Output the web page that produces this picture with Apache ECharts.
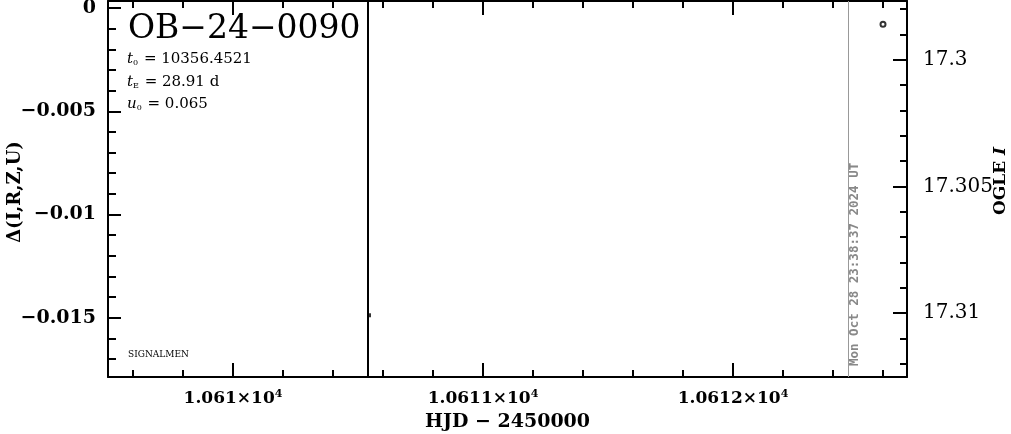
<!DOCTYPE html>
<html>
<head>
<meta charset="utf-8">
<script src="https://cdn.jsdelivr.net/npm/echarts@6/dist/echarts.min.js"></script>
<style>
html,body{margin:0;padding:0;background:#fff;}
#chart{width:1011px;height:434px;}
</style>
</head>
<body>
<div id="chart"></div>
<script>
// ---- data ----
const xRange = [10609.5, 10612.696];
const leftRange = [-0.01787, 0.00034];
const rightRange = [17.29768, 17.31252];
const xMajorTicks = [10610, 10611, 10612];
const xTickLabels = ['1.061', '1.0611', '1.0612'];
const xMinorStep = 0.2;
const leftMajorTicks = [0, -0.005, -0.01, -0.015];
const leftTickLabels = ['0', '\u22120.005', '\u22120.01', '\u22120.015'];
const leftMinorStep = 0.001;
const rightMajorTicks = [17.3, 17.305, 17.31];
const rightTickLabels = ['17.3', '17.305', '17.31'];
const rightMinorStep = 0.001;
const ogleHJD = [10612.6];
const ogleMag = [17.2986];
const deltaHJD = [10610.544];
const deltaVal = [-0.01488];
const t0Line = [10610.544];
const nowLine = [10612.46];

function minorTicks(range, step, majors) {
  const out = [];
  const start = Math.ceil(range[0] / step - 1e-9);
  const end = Math.floor(range[1] / step + 1e-9);
  for (let k = start; k <= end; k++) {
    const v = +(k * step).toFixed(6);
    if (!majors.some(m => Math.abs(m - v) < step / 10)) out.push(v);
  }
  return out;
}
const xMinor = minorTicks(xRange, xMinorStep, xMajorTicks);
const leftMinor = minorTicks(leftRange, leftMinorStep, leftMajorTicks);
const rightMinor = minorTicks(rightRange, rightMinorStep, rightMajorTicks);

const serif = '"DejaVu Serif", serif';
const black = '#000';

function baseX(pos, ticks, len, showLine) {
  return {
    type: 'value', position: pos, min: xRange[0], max: xRange[1],
    axisLine: {show: showLine, onZero: false, lineStyle: {color: black, width: 2}},
    axisTick: {show: true, inside: true, length: len, customValues: ticks, lineStyle: {color: black, width: 2}},
    axisLabel: {show: false}, splitLine: {show: false}
  };
}
function baseY(pos, range, inverse, ticks, len, showLine) {
  return {
    type: 'value', position: pos, min: range[0], max: range[1], inverse: inverse,
    axisLine: {show: showLine, onZero: false, lineStyle: {color: black, width: 2}},
    axisTick: {show: true, inside: true, length: len, customValues: ticks, lineStyle: {color: black, width: 2}},
    axisLabel: {show: false}, splitLine: {show: false}
  };
}

const xBottom = baseX('bottom', xMajorTicks, 14, true);
xBottom.axisLabel = {
  show: true, customValues: xMajorTicks, margin: 12,
  formatter: function (v) {
    const i = xMajorTicks.findIndex(m => Math.abs(m - v) < 1e-6);
    return '{a|' + xTickLabels[i] + '\u00d710}{s|4}';
  },
  rich: {
    a: {fontFamily: serif, fontWeight: 'bold', fontSize: 17, color: black},
    s: {fontFamily: serif, fontWeight: 'bold', fontSize: 11, color: black, verticalAlign: 'top', padding: [0, 0, 8, 0]}
  }
};
xBottom.name = 'HJD \u2212 2450000';
xBottom.nameLocation = 'middle';
xBottom.nameGap = 36;
xBottom.nameMoveOverlap = false;
xBottom.nameTextStyle = {fontFamily: serif, fontWeight: 'bold', fontSize: 19, color: black};

const yLeft = baseY('left', leftRange, false, leftMajorTicks, 13, true);
yLeft.axisLabel = {
  show: true, customValues: leftMajorTicks, margin: 12,
  fontFamily: serif, fontWeight: 'bold', fontSize: 19, color: black,
  formatter: function (v) {
    const i = leftMajorTicks.findIndex(m => Math.abs(m - v) < 1e-9);
    return leftTickLabels[i];
  }
};
yLeft.name = '\u0394(I,R,Z,U)';
yLeft.nameLocation = 'middle';
yLeft.nameGap = 84;
yLeft.nameRotate = 90;
yLeft.nameMoveOverlap = false;
yLeft.nameTextStyle = {fontFamily: serif, fontWeight: 'bold', fontSize: 18, color: black, padding: [0, 6, 0, 0]};

const yRight = baseY('right', rightRange, true, rightMajorTicks, 14, true);
yRight.axisLabel = {
  show: true, customValues: rightMajorTicks, margin: 16,
  fontFamily: serif, fontSize: 20, color: black,
  formatter: function (v) {
    const i = rightMajorTicks.findIndex(m => Math.abs(m - v) < 1e-9);
    return rightTickLabels[i];
  }
};
yRight.name = '{a|OGLE }{i|I}';
yRight.nameLocation = 'middle';
yRight.nameGap = 85;
yRight.nameRotate = 90;
yRight.nameMoveOverlap = false;
yRight.nameTextStyle = {
  padding: [0, 0, 0, 16],
  rich: {
    a: {fontFamily: serif, fontWeight: 'bold', fontSize: 17, color: black},
    i: {fontFamily: serif, fontStyle: 'italic', fontWeight: 'bold', fontSize: 17, color: black}
  }
};

const richParam = {
  i: {fontFamily: serif, fontStyle: 'italic', fontSize: 15, fill: black},
  s: {fontFamily: serif, fontSize: 8, fill: black, verticalAlign: 'bottom', padding: [7, 1, 0, 0]},
  n: {fontFamily: serif, fontSize: 15, fill: black}
};

const option = {
  animation: false,
  backgroundColor: '#fff',
  grid: {left: 108, right: 104, top: 1, bottom: 57, containLabel: false, outerBoundsMode: 'none'},
  xAxis: [
    xBottom,
    baseX('bottom', xMinor, 7, false),
    baseX('top', xMajorTicks, 14, true),
    baseX('top', xMinor, 7, false)
  ],
  yAxis: [
    yLeft,
    baseY('left', leftRange, false, leftMinor, 8, false),
    yRight,
    baseY('right', rightRange, true, rightMinor, 7, false)
  ],
  series: [
    {
      type: 'scatter', xAxisIndex: 0, yAxisIndex: 2,
      data: ogleHJD.map((x, i) => [x, ogleMag[i]]),
      symbol: 'emptyCircle', symbolSize: 5,
      itemStyle: {color: black, borderColor: black, borderWidth: 2},
      silent: true
    },
    {
      type: 'scatter', xAxisIndex: 0, yAxisIndex: 0,
      data: deltaHJD.map((x, i) => [x, deltaVal[i]]),
      symbol: 'rect', symbolSize: 4,
      itemStyle: {color: black},
      silent: true,
      markLine: {
        silent: true, symbol: ['none', 'none'], label: {show: false},
        data: [
          {xAxis: t0Line[0], lineStyle: {color: black, width: 2, type: 'solid'}},
          {xAxis: nowLine[0], lineStyle: {color: '#999', width: 1, type: 'solid'}}
        ]
      }
    }
  ],
  graphic: [
    {type: 'text', left: 128, top: 13, style: {text: 'OB\u221224\u22120090', fontFamily: serif, fontSize: 33, fill: black}},
    {type: 'text', left: 127, top: 52, style: {text: '{i|t}{s|0}{n| = 10356.4521}', rich: richParam}},
    {type: 'text', left: 127, top: 75, style: {text: '{i|t}{s|E}{n| = 28.91 d}', rich: richParam}},
    {type: 'text', left: 127, top: 97, style: {text: '{i|u}{s|0}{n| = 0.065}', rich: richParam}},
    {type: 'text', left: 128, top: 350, style: {text: 'SIGNALMEN', fontFamily: serif, fontSize: 9, fill: black}},
    {type: 'text', x: 855, y: 366, rotation: Math.PI / 2, style: {
      text: 'Mon Oct 28 23:38:37 2024 UT', fontFamily: '"DejaVu Sans Mono", monospace', fontWeight: 'bold',
      fontSize: 12.5, fill: '#888', align: 'left', verticalAlign: 'middle'}}
  ]
};

const chart = echarts.init(document.getElementById('chart'), null, {renderer: 'canvas'});
chart.setOption(option);
</script>
</body>
</html>
